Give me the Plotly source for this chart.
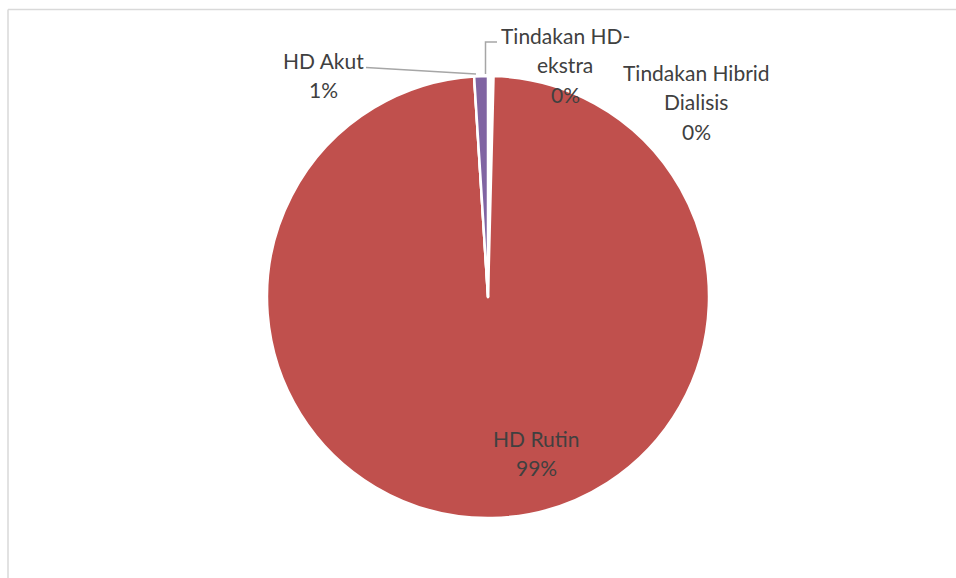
import plotly.graph_objects as go

# Jenis tindakan hemodialisis
categories = ["Tindakan HD-ekstra", "HD Rutin", "Tindakan Hibrid Dialisis", "HD Akut"]
values = [0.4, 98.6, 0.0, 1.0]
colors = ["#FFFFFF", "#C0504D", "#9BBB59", "#8064A2"]

W, H = 956, 578
total = sum(values)
pct = [f"{round(v / total * 100)}%" for v in values]

def px(x):
    return x / W

def py(y):
    return 1 - y / H

fig = go.Figure(
    go.Pie(
        labels=categories,
        values=values,
        marker=dict(colors=colors, line=dict(color="#FFFFFF", width=2.5)),
        sort=False,
        direction="clockwise",
        rotation=0,
        textinfo="none",
        hoverinfo="label+percent",
        showlegend=False,
        domain=dict(x=[px(267), px(709)], y=[py(518), py(76)]),
    )
)

font = dict(family="Lato, 'Open Sans', sans-serif", size=21, color="#404040")

# Label text and placement (x centre, y of first line) per category
label_lines = {
    "Tindakan HD-ekstra": (["Tindakan HD-", "ekstra"], 565, 35),
    "HD Rutin": (["HD Rutin"], 536, 438),
    "Tindakan Hibrid Dialisis": (["Tindakan Hibrid", "Dialisis"], 696, 72),
    "HD Akut": (["HD Akut"], 323, 60),
}
line_gap = 29.5
annotations = []
for cat, p in zip(categories, pct):
    lines, cx, cy = label_lines[cat]
    for i, t in enumerate(lines + [p]):
        annotations.append(dict(
            x=px(cx), y=py(cy + i * line_gap), xref="paper", yref="paper",
            text=t, showarrow=False, font=font, xanchor="center", yanchor="middle",
        ))

leader = dict(color="#A6A6A6", width=1.5)
shapes = [
    # chart frame
    dict(type="line", xref="paper", yref="paper", x0=px(8), x1=1, y0=py(9.5), y1=py(9.5),
         line=dict(color="#D9D9D9", width=1.5)),
    dict(type="line", xref="paper", yref="paper", x0=px(8), x1=px(8), y0=py(9.5), y1=0,
         line=dict(color="#D9D9D9", width=1.5)),
    # leader lines
    dict(type="path", xref="paper", yref="paper",
         path=f"M {px(366)},{py(67.5)} L {px(476)},{py(74)}", line=leader),
    dict(type="path", xref="paper", yref="paper",
         path=f"M {px(497)},{py(42)} L {px(485.5)},{py(42)} L {px(485.5)},{py(74)}", line=leader),
]

fig.update_layout(
    width=W, height=H,
    margin=dict(l=0, r=0, t=0, b=0),
    paper_bgcolor="#FFFFFF",
    plot_bgcolor="#FFFFFF",
    annotations=annotations,
    shapes=shapes,
)

fig.write_html("out.html")
